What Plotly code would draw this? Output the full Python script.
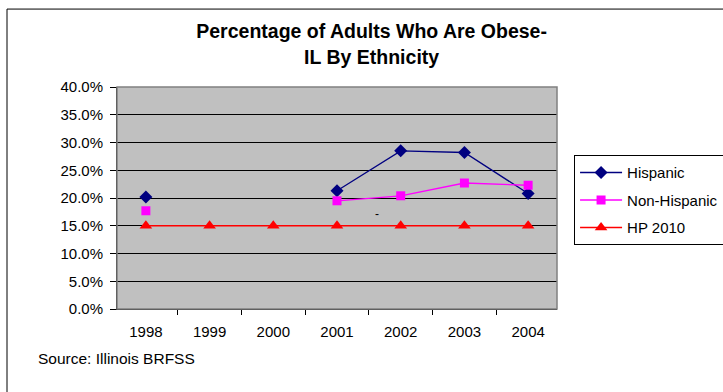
import plotly.graph_objects as go

# data
years = ["1998", "1999", "2000", "2001", "2002", "2003", "2004"]
hispanic = [20.2, None, None, 21.3, 28.5, 28.2, 20.8]
non_hispanic = [17.7, None, None, 19.5, 20.4, 22.7, 22.3]
hp2010 = [15.0, 15.0, 15.0, 15.0, 15.0, 15.0, 15.0]

fig = go.Figure()
fig.add_trace(go.Scatter(x=years, y=hispanic, name="Hispanic", mode="lines+markers",
                         legendgroup="a",
                         line=dict(color="#000080", width=1.3),
                         marker=dict(symbol="diamond", size=10, color="#000080"),
                         connectgaps=False))
fig.add_trace(go.Scatter(x=years, y=non_hispanic, name="Non-Hispanic", mode="lines+markers",
                         legendgroup="b",
                         line=dict(color="#FF00FF", width=1.3),
                         marker=dict(symbol="square", size=9, color="#FF00FF"),
                         connectgaps=False))
fig.add_trace(go.Scatter(x=years, y=hp2010, name="HP 2010", mode="lines+markers",
                         legendgroup="c",
                         line=dict(color="#FF0000", width=1.6),
                         marker=dict(symbol="triangle-up", size=11, color="#FF0000")))

fig.update_layout(
    width=723, height=392,
    margin=dict(l=117, r=166, t=87, b=83, autoexpand=False),
    paper_bgcolor="white", plot_bgcolor="#C0C0C0",
    font=dict(family="Liberation Sans, Arial", size=15, color="black"),
    title=dict(text="<b>Percentage of Adults Who Are Obese-<br>IL By Ethnicity</b>",
               x=0.514, xanchor="center", y=0.902, yanchor="middle",
               font=dict(size=19.5)),
    showlegend=True,
    legend=dict(xref="container", yref="container", x=0.794, y=0.604,
                xanchor="left", yanchor="top",
                bordercolor="black", borderwidth=1, bgcolor="white",
                traceorder="grouped", tracegroupgap=5, itemwidth=42,
                font=dict(size=15)),
)
fig.update_xaxes(type="category", tickson="boundaries", ticks="outside", ticklen=5,
                 tickcolor="black", showline=True, linecolor="black",
                 showgrid=False, ticklabelstandoff=9)
fig.update_yaxes(range=[0, 40], dtick=5, tickformat=".1f", ticksuffix="%",
                 ticks="outside", ticklen=6, tickcolor="black", ticklabelstandoff=4,
                 showline=True, linecolor="black", showgrid=True, gridcolor="black",
                 gridwidth=1, zeroline=False)

# gray border round the plot area (top and right)
fig.add_shape(type="rect", xref="paper", yref="paper", x0=0, y0=0, x1=1, y1=1,
              line=dict(color="#808080", width=1.5), layer="above")
# chart area border, clipped by the page on the right and bottom
fig.add_shape(type="rect", xref="paper", yref="paper", x0=-0.25, y0=-2, x1=2, y1=1.351,
              line=dict(color="black", width=1))

fig.add_annotation(text="Source: Illinois BRFSS", xref="paper", yref="paper",
                   x=-0.184, y=-0.221, xanchor="left", yanchor="middle",
                   showarrow=False, font=dict(size=15.5))
fig.add_annotation(text="-", xref="paper", yref="paper", x=0.591, y=0.428,
                   showarrow=False, font=dict(size=12))

fig.write_html("out.html", config={"displayModeBar": False},
               post_script="document.body.style.margin='0';")
